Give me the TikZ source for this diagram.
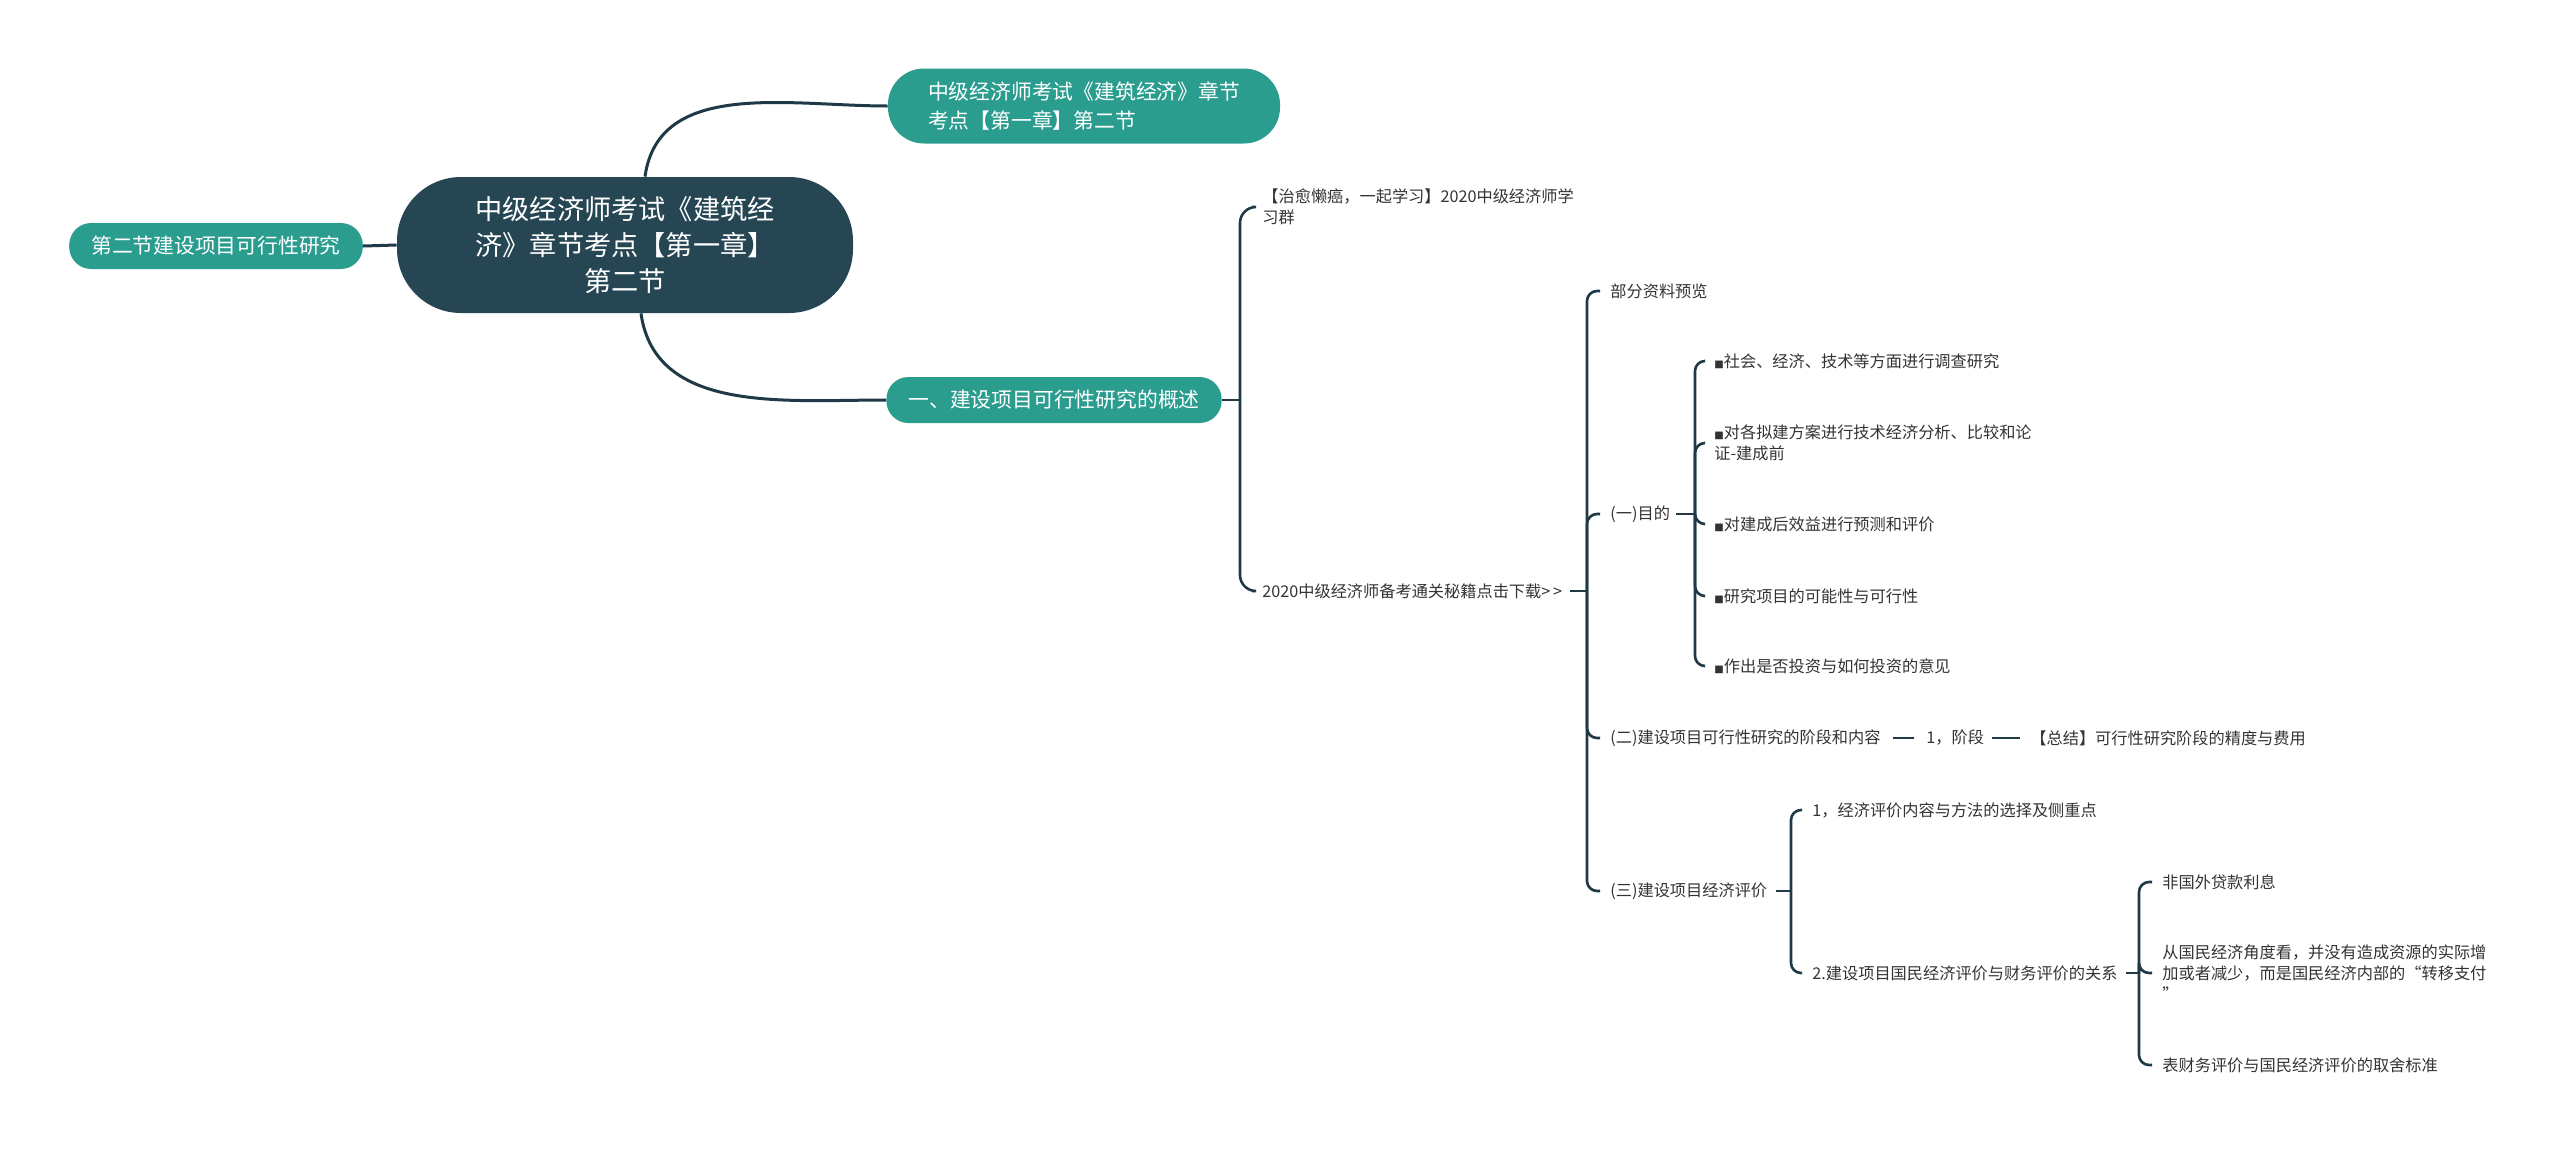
\documentclass[tikz,border=0pt]{standalone}
\usepackage{fontspec}
\setmainfont{Noto Sans CJK SC}
\newfontfamily\symfont{DejaVu Sans}
\usetikzlibrary{positioning}

\definecolor{rootblue}{HTML}{264653}
\definecolor{topicgreen}{HTML}{2A9D8F}
\definecolor{linedark}{HTML}{1F3A46}
\definecolor{leafgray}{HTML}{333333}

\newcommand{\sqmark}{{\symfont\fontsize{5}{5}\selectfont ■}}

\begin{document}
\begin{tikzpicture}[x=0.5pt,y=-0.5pt,
	rootnode/.style={fill=rootblue,text=white,rounded corners=32pt,minimum width=228pt,minimum height=68pt,align=center,font=\fontsize{13.6}{18}\selectfont},
	topic/.style={fill=topicgreen,text=white,rounded corners=11pt,minimum height=23pt,inner xsep=11pt,font=\fontsize{10.4}{14.6}\selectfont},
	leaf/.style={text=leafgray,anchor=west,inner sep=0pt,align=left,font=\fontsize{8.1}{10.5}\selectfont},
	branch/.style={draw=linedark,line width=1.5pt},
	brace/.style={draw=linedark,line width=1.3pt,rounded corners=5pt,shorten >=5pt},
	stub/.style={draw=linedark,line width=1.3pt}]
\useasboundingbox (0,0) rectangle (2560,1152);

\node[rootnode] (root) at (625,245) {中级经济师考试《建筑经\\济》章节考点【第一章】\\第二节};
\node[topic] (sec) at (216,246) {第二节建设项目可行性研究};
\node[topic,align=left,inner xsep=20pt,minimum height=37.5pt,rounded corners=18pt] (title) at (1084,106) {中级经济师考试《建筑经济》章节\\考点【第一章】第二节};
\node[topic] (over) at (1054,400) {一、建设项目可行性研究的概述};

\draw[branch] (sec.east) -- (root.west);
\draw[branch] ([xshift=10pt]root.north) to[out=82,in=180] (title.west);
\draw[branch] ([xshift=8pt]root.south) to[out=-82,in=180] (over.west);

\node[leaf] (qun) at (1262,207) {【治愈懒癌，一起学习】2020中级经济师学\\习群};
\node[leaf] (xz) at (1262,591) {2020中级经济师备考通关秘籍点击下载>\,>};
\draw[stub] (over.east) -- (1240,400);
\draw[brace,rounded corners=8pt] (1240,400) |- (qun.west);
\draw[brace,rounded corners=8pt] (1240,400) |- (xz.west);

\node[leaf] (bufen) at (1610,291) {部分资料预览};
\node[leaf] (mudi) at (1610,514) {(一)目的};
\node[leaf] (jd) at (1610,738) {(二)建设项目可行性研究的阶段和内容};
\node[leaf] (pj) at (1610,891) {(三)建设项目经济评价};
\draw[stub] ([xshift=4pt]xz.east) -- (1587,591);
\foreach \k in {bufen,mudi,jd,pj}
	\draw[brace] (1587,591) |- (\k.west);

\node[leaf] (md1) at (1714,361) {{\sqmark}社会、经济、技术等方面进行调查研究};
\node[leaf] (md2) at (1714,443) {{\sqmark}对各拟建方案进行技术经济分析、比较和论\\证-建成前};
\node[leaf] (md3) at (1714,524) {{\sqmark}对建成后效益进行预测和评价};
\node[leaf] (md4) at (1714,596) {{\sqmark}研究项目的可能性与可行性};
\node[leaf] (md5) at (1714,666) {{\sqmark}作出是否投资与如何投资的意见};
\draw[stub] ([xshift=3pt]mudi.east) -- (1695,514);
\foreach \k in {md1,md2,md3,md4,md5}
	\draw[brace] (1695,514) |- (\k.west);

\node[leaf] (jd1) at (1926,738) {1，阶段};
\node[leaf] (zj) at (2030,738) {【总结】可行性研究阶段的精度与费用};
\draw[stub] ([xshift=6pt]jd.east) -- ([xshift=-6pt]jd1.west);
\draw[stub] ([xshift=4pt]jd1.east) -- ([xshift=-5pt]zj.west);

\node[leaf] (pj1) at (1812,810) {1，经济评价内容与方法的选择及侧重点};
\node[leaf] (pj2) at (1812,973) {2.建设项目国民经济评价与财务评价的关系};
\draw[stub] ([xshift=4pt]pj.east) -- (1791,891);
\foreach \k in {pj1,pj2}
	\draw[brace] (1791,891) |- (\k.west);

\node[leaf] (gx1) at (2162,882) {非国外贷款利息};
\node[leaf] (gx2) at (2162,973) {从国民经济角度看，并没有造成资源的实际增\\加或者减少，而是国民经济内部的“转移支付\\”};
\node[leaf] (gx3) at (2162,1065) {表财务评价与国民经济评价的取舍标准};
\draw[stub] ([xshift=4pt]pj2.east) -- (2139,973);
\foreach \k in {gx1,gx2,gx3}
	\draw[brace] (2139,973) |- (\k.west);
\end{tikzpicture}
\end{document}
